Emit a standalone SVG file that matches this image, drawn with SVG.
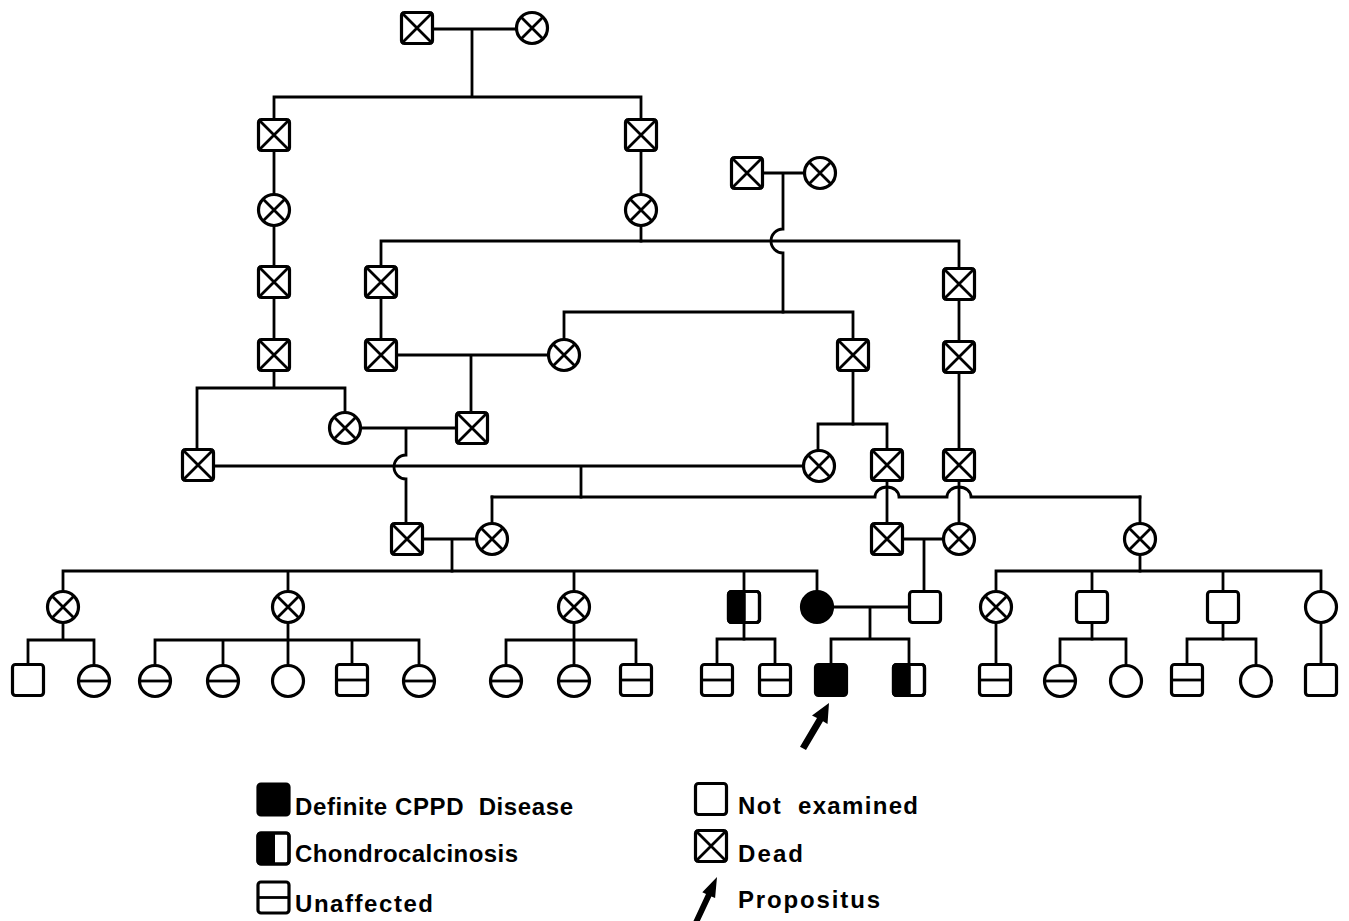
<svg xmlns="http://www.w3.org/2000/svg" xmlns:xlink="http://www.w3.org/1999/xlink" width="1349" height="921" viewBox="0 0 1349 921">
<style>
.ln{stroke:#000;stroke-width:2.8;fill:none;stroke-linecap:square}
.o{stroke:#000;stroke-width:3.2;fill:#fff}
.f{stroke:#000;stroke-width:3.2;fill:#000}
.x{stroke:#000;stroke-width:2.8}
.lg{font-family:"Liberation Sans",Arial,sans-serif;font-weight:bold;font-size:24px;fill:#000}
</style>
<defs>
<g id="sq"><rect class="o" x="-15.5" y="-15.5" width="31" height="31" rx="3"/></g>
<g id="ci"><circle class="o" r="15.5"/></g>
<g id="dsq"><rect class="o" x="-15.5" y="-15.5" width="31" height="31" rx="3"/><path class="x" d="M-15.5,-15.5L15.5,15.5M15.5,-15.5L-15.5,15.5"/></g>
<g id="dci"><circle class="o" r="15.5"/><path class="x" d="M-11,-11L11,11M11,-11L-11,11"/></g>
<g id="usq"><rect class="o" x="-15.5" y="-15.5" width="31" height="31" rx="3"/><path class="x" d="M-15.5,0H15.5"/></g>
<g id="uci"><circle class="o" r="15.5"/><path class="x" d="M-15.5,0H15.5"/></g>
<g id="fsq"><rect class="f" x="-15.5" y="-15.5" width="31" height="31" rx="3"/></g>
<g id="fci"><circle class="f" r="15.5"/></g>
<g id="hsq"><rect class="o" x="-15.5" y="-15.5" width="31" height="31" rx="3"/><rect x="-15.5" y="-15.5" width="17" height="31" rx="3" fill="#000"/><rect x="-8" y="-15.5" width="9.5" height="31" fill="#000"/><rect x="-15.5" y="-15.5" width="31" height="31" rx="3" fill="none" stroke="#000" stroke-width="3.2"/></g>
</defs>

<g id="connectors" class="ln">
<path d="M417,29H532M472,29V97M274,97H641M274,97V135M641,97V135"/>
<path d="M274,135V355M274,355V388M197,388H345M197,388V465M345,388V428"/>
<path d="M641,135V241M747,173H820M783,173V229A12,12 0 0 0 783,253V312"/>
<path d="M381,241H959M381,241V355M959,241V465"/>
<path d="M564,312H853M564,312V355M853,312V424"/>
<path d="M381,355H564M471,355V428"/>
<path d="M345,428H472M406,428V455A12,12 0 0 0 406,479V539"/>
<path d="M198,466H819M581,466V497"/>
<path d="M818,424H887M818,424V466M887,424V465"/>
<path d="M492,497H875A12,10 0 0 1 899,497H947A12,10 0 0 1 971,497H1140"/>
<path d="M887,465V539M959,465V539M492,497V539M1140,497V571"/>
<path d="M407,539H492M452,539V571M887,539H959M924,539V607"/>
<path d="M63,571H817M63,571V607M288,571V607M574,571V607M744,571V639M817,571V607"/>
<path d="M996,571H1321M996,571V680M1092,571V639M1223,571V639M1321,571V680"/>
<path d="M817,607H925M870,607V639M831,639H909M831,639V680M909,639V680"/>
<path d="M717,639H775M717,639V680M775,639V680"/>
<path d="M63,607V640M28,640H94M28,640V680M94,640V680"/>
<path d="M288,607V640M155,640H419M155,640V680M223,640V680M288,640V680M352,640V680M419,640V680"/>
<path d="M574,607V640M506,640H636M506,640V680M574,640V680M636,640V680"/>
<path d="M1060,639H1126M1060,639V680M1126,639V680M1187,639H1256M1187,639V680M1256,639V680"/>
</g>

<g id="n_g0_m"><use xlink:href="#dsq" x="417" y="28"/></g>
<g id="n_g0_f"><use xlink:href="#dci" x="532" y="28"/></g>
<g id="n_b1"><use xlink:href="#dsq" x="274" y="135"/></g>
<g id="n_b2"><use xlink:href="#dsq" x="641" y="135"/></g>
<g id="n_b1c"><use xlink:href="#dci" x="274" y="210"/></g>
<g id="n_b1s1"><use xlink:href="#dsq" x="274" y="282"/></g>
<g id="n_b1s2"><use xlink:href="#dsq" x="274" y="355"/></g>
<g id="n_b2c"><use xlink:href="#dci" x="641" y="210"/></g>
<g id="n_t2_m"><use xlink:href="#dsq" x="747" y="173"/></g>
<g id="n_t2_f"><use xlink:href="#dci" x="820" y="173"/></g>
<g id="n_c1"><use xlink:href="#dsq" x="381" y="282"/></g>
<g id="n_c1s"><use xlink:href="#dsq" x="381" y="355"/></g>
<g id="n_c2"><use xlink:href="#dsq" x="959" y="284"/></g>
<g id="n_c2s"><use xlink:href="#dsq" x="959" y="357"/></g>
<g id="n_c2t"><use xlink:href="#dsq" x="959" y="465"/></g>
<g id="n_d1"><use xlink:href="#dci" x="564" y="355"/></g>
<g id="n_d2"><use xlink:href="#dsq" x="853" y="355"/></g>
<g id="n_e1"><use xlink:href="#dsq" x="198" y="465"/></g>
<g id="n_e2"><use xlink:href="#dci" x="345" y="428"/></g>
<g id="n_e3"><use xlink:href="#dsq" x="472" y="428"/></g>
<g id="n_e4"><use xlink:href="#dci" x="819" y="466"/></g>
<g id="n_e5"><use xlink:href="#dsq" x="887" y="465"/></g>
<g id="n_f1"><use xlink:href="#dsq" x="407" y="539"/></g>
<g id="n_f2"><use xlink:href="#dci" x="492" y="539"/></g>
<g id="n_f3"><use xlink:href="#dsq" x="887" y="539"/></g>
<g id="n_f4"><use xlink:href="#dci" x="959" y="539"/></g>
<g id="n_f5"><use xlink:href="#dci" x="1140" y="539"/></g>
<g id="n_g1"><use xlink:href="#dci" x="63" y="607"/></g>
<g id="n_g2"><use xlink:href="#dci" x="288" y="607"/></g>
<g id="n_g3"><use xlink:href="#dci" x="574" y="607"/></g>
<g id="n_g4"><use xlink:href="#hsq" x="744" y="607"/></g>
<g id="n_g5"><use xlink:href="#fci" x="817" y="607"/></g>
<g id="n_g6"><use xlink:href="#sq" x="925" y="607"/></g>
<g id="n_g7"><use xlink:href="#dci" x="996" y="607"/></g>
<g id="n_g8"><use xlink:href="#sq" x="1092" y="607"/></g>
<g id="n_g9"><use xlink:href="#sq" x="1223" y="607"/></g>
<g id="n_g10"><use xlink:href="#ci" x="1321" y="607"/></g>
<g id="n_h1"><use xlink:href="#sq" x="28" y="680"/></g>
<g id="n_h2"><use xlink:href="#uci" x="94" y="681"/></g>
<g id="n_h3"><use xlink:href="#uci" x="155" y="681"/></g>
<g id="n_h4"><use xlink:href="#uci" x="223" y="681"/></g>
<g id="n_h5"><use xlink:href="#ci" x="288" y="681"/></g>
<g id="n_h6"><use xlink:href="#usq" x="352" y="680"/></g>
<g id="n_h7"><use xlink:href="#uci" x="419" y="681"/></g>
<g id="n_h8"><use xlink:href="#uci" x="506" y="681"/></g>
<g id="n_h9"><use xlink:href="#uci" x="574" y="681"/></g>
<g id="n_h10"><use xlink:href="#usq" x="636" y="680"/></g>
<g id="n_h11"><use xlink:href="#usq" x="717" y="680"/></g>
<g id="n_h12"><use xlink:href="#usq" x="775" y="680"/></g>
<g id="n_h13"><use xlink:href="#fsq" x="831" y="680"/></g>
<g id="n_h14"><use xlink:href="#hsq" x="909" y="680"/></g>
<g id="n_h15"><use xlink:href="#usq" x="995" y="680"/></g>
<g id="n_h16"><use xlink:href="#uci" x="1060" y="681"/></g>
<g id="n_h17"><use xlink:href="#ci" x="1126" y="681"/></g>
<g id="n_h18"><use xlink:href="#usq" x="1187" y="680"/></g>
<g id="n_h19"><use xlink:href="#ci" x="1256" y="681"/></g>
<g id="n_h20"><use xlink:href="#sq" x="1321" y="680"/></g>

<g id="propositus_arrow"><polygon points="829,703 827.5,724 823,721.3 806,750 800,746.7 817,718 812,715.5" fill="#000"/></g>

<g id="legend">
<use xlink:href="#fsq" x="273.5" y="799.5"/>
<text class="lg" x="295" y="815" textLength="278" lengthAdjust="spacing">Definite CPPD&#160; Disease</text>
<use xlink:href="#hsq" x="273.5" y="848.5"/>
<text class="lg" x="295" y="862" textLength="223" lengthAdjust="spacing">Chondrocalcinosis</text>
<use xlink:href="#usq" x="273.5" y="897.5"/>
<text class="lg" x="295" y="912" textLength="138" lengthAdjust="spacing">Unaffected</text>
<use xlink:href="#sq" x="711" y="799"/>
<text class="lg" x="738" y="814" textLength="180" lengthAdjust="spacing">Not&#160; examined</text>
<use xlink:href="#dsq" x="711" y="846"/>
<text class="lg" x="738" y="862" textLength="65" lengthAdjust="spacing">Dead</text>
<polygon points="717,877 715.1,898.1 711.4,896.4 698,925 693,922 706,894 702.3,892.3" fill="#000"/>
<text class="lg" x="738" y="908" textLength="142" lengthAdjust="spacing">Propositus</text>
</g>
</svg>
